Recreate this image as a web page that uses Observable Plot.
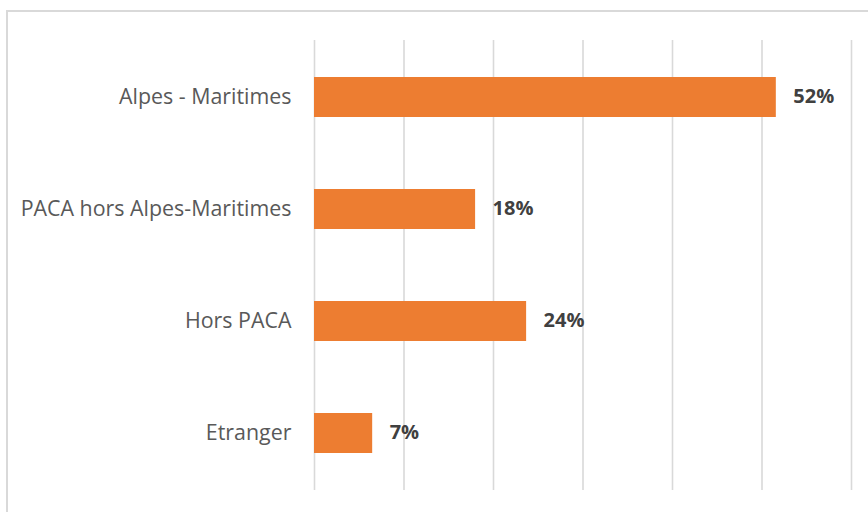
<!DOCTYPE html>
<html>
<head>
<meta charset="utf-8">
<script src="https://cdn.jsdelivr.net/npm/d3@7"></script>
<script src="https://cdn.jsdelivr.net/npm/@observablehq/plot@0.6"></script>
<style>
  html, body { margin: 0; padding: 0; background: #fff; }
  #wrap { position: relative; width: 868px; height: 512px; overflow: hidden; }
  #border { position: absolute; left: 6px; top: 10px; width: 900px; height: 600px;
            border-left: 2px solid #d9d9d9; border-top: 2px solid #d9d9d9; box-sizing: border-box; }
  #chart { position: absolute; left: 0; top: 0; }
</style>
</head>
<body>
<div id="wrap"><div id="border"></div><div id="chart"></div></div>
<script>
const categories = ["Alpes - Maritimes", "PACA hors Alpes-Maritimes", "Hors PACA", "Etranger"];
const values = [0.516, 0.18, 0.237, 0.065];
const gridTicks = [0, 0.1, 0.2, 0.3, 0.4, 0.5, 0.6];

const data = categories.map((c, i) => ({category: c, value: values[i]}));

const chart = Plot.plot({
  width: 868,
  height: 512,
  marginLeft: 314,
  marginRight: 17,
  marginTop: 40,
  marginBottom: 22,
  style: {fontFamily: "'Open Sans', sans-serif", background: "transparent"},
  x: {domain: [0, 0.6], axis: null},
  y: {domain: categories, paddingInner: 0.644, paddingOuter: 0.322, label: null},
  marks: [
    Plot.ruleX(gridTicks, {stroke: "#d9d9d9", strokeWidth: 1.6}),
    Plot.barX(data, {x: "value", y: "category", fill: "#ed7d31"}),
    Plot.text(data, {x: "value", y: "category", text: d => d3.format(".0%")(d.value),
      dx: 17, dy: -1, textAnchor: "start", fontWeight: "bold", fontSize: 20, fill: "#404040"}),
    Plot.axisY({tickSize: 0, tickPadding: 23, fontSize: 21.4, color: "#595959", label: null})
  ]
});
document.getElementById("chart").appendChild(chart);
</script>
</body>
</html>
